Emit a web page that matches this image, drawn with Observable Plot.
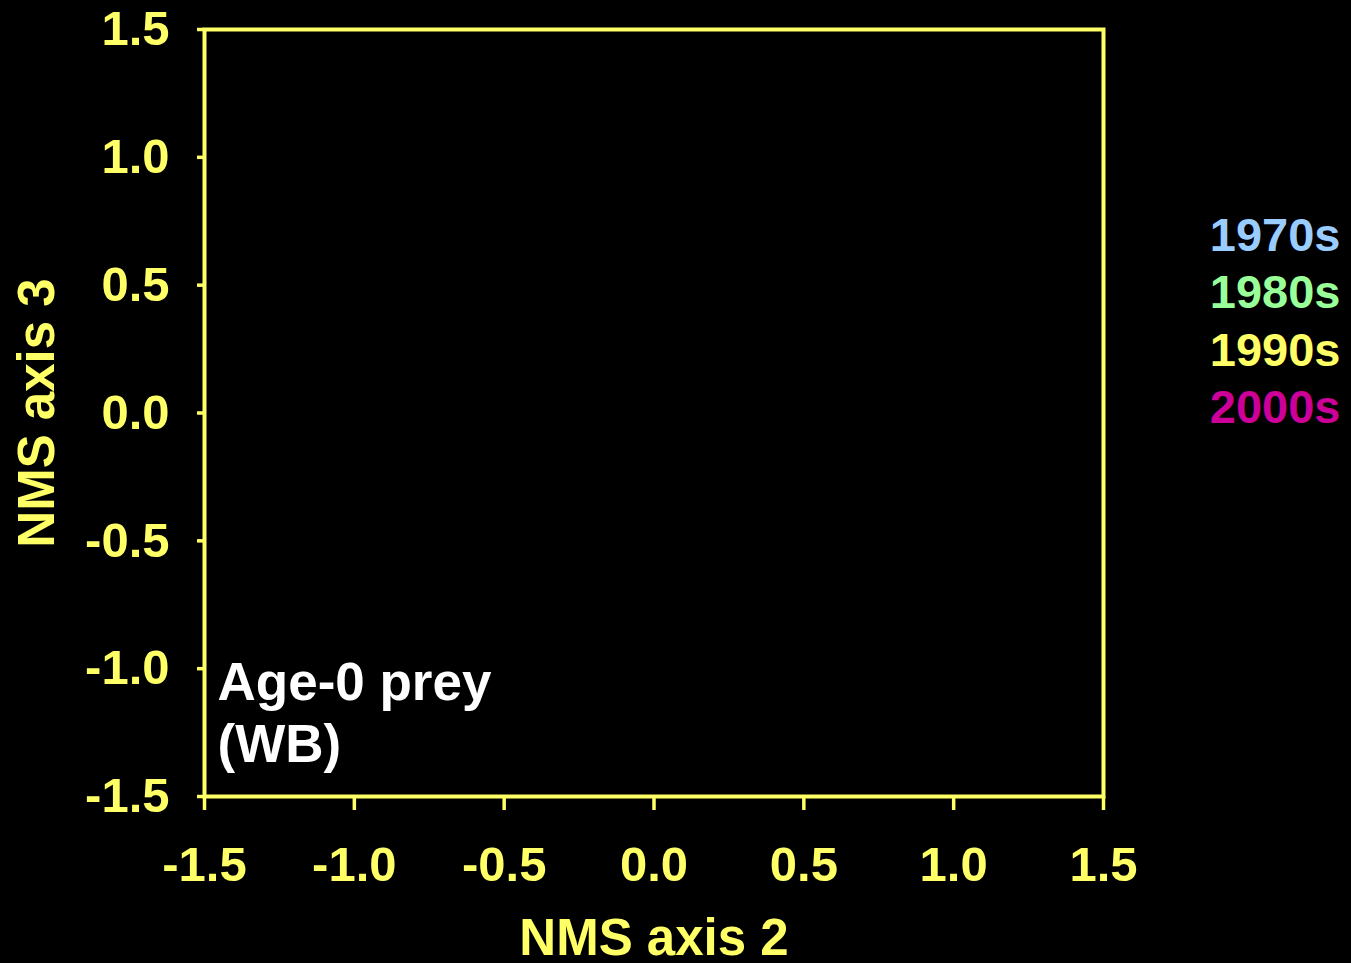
<!DOCTYPE html>
<html>
<head>
<meta charset="utf-8">
<script src="https://cdn.jsdelivr.net/npm/d3@7"></script>
<script src="https://cdn.jsdelivr.net/npm/@observablehq/plot@0.6"></script>
<style>
  html, body { margin: 0; padding: 0; background: #000; }
  #chart svg { display: block; }
</style>
</head>
<body>
<div id="chart"></div>
<script>
// Data
const decades = ["1970s", "1980s", "1990s", "2000s"];
const decadeColors = ["#99CCFF", "#99FF99", "#FFFF66", "#CC0099"];
const xTicks = [-1.5, -1.0, -0.5, 0.0, 0.5, 1.0, 1.5];
const yTicks = [-1.5, -1.0, -0.5, 0.0, 0.5, 1.0, 1.5];
const points = []; // no points visible in the reference
const xTitle = "NMS axis 2";
const yTitle = "NMS axis 3";
const panelNote = "Age-0 prey\n(WB)";

const yellow = "#FFFF66";
const font = "Liberation Sans, Arial, sans-serif";

const legendMarks = decades.map((d, i) =>
  Plot.text([d], {
    frameAnchor: "top-right",
    dx: 237,
    dy: 206 + i * 57.5,
    textAnchor: "end",
    lineAnchor: "middle",
    fill: decadeColors[i],
    fontSize: 47,
    fontWeight: "bold"
  })
);

const chart = Plot.plot({
  width: 1351,
  height: 963,
  marginLeft: 204,
  marginRight: 248,
  marginTop: 29,
  marginBottom: 167,
  style: { background: "#000", fontFamily: font, fontWeight: "bold", overflow: "visible" },
  x: { domain: [-1.5, 1.5] },
  y: { domain: [-1.5, 1.5] },
  color: { domain: decades, range: decadeColors },
  marks: [
    Plot.frame({ stroke: yellow, strokeWidth: 4 }),
    Plot.axisX({
      ticks: xTicks, tickSize: 14, tickPadding: 36,
      tickFormat: d => d.toFixed(1),
      stroke: yellow, strokeWidth: 3.5, fill: yellow,
      fontSize: 49, fontWeight: "bold", label: null
    }),
    Plot.axisY({
      ticks: yTicks, tickSize: 7, tickPadding: 28,
      tickFormat: d => d.toFixed(1),
      stroke: yellow, strokeWidth: 3.5, fill: yellow,
      fontSize: 49, fontWeight: "bold", label: null
    }),
    Plot.dot(points, { x: "x", y: "y", fill: "decade", r: 8 }),
    Plot.text([xTitle], {
      frameAnchor: "bottom", dy: 142, lineAnchor: "middle",
      fill: yellow, fontSize: 51, fontWeight: "bold"
    }),
    Plot.text([yTitle], {
      frameAnchor: "left", dx: -167, rotate: -90, textAnchor: "middle", lineAnchor: "middle",
      fill: yellow, fontSize: 51, fontWeight: "bold"
    }),
    Plot.text([panelNote], {
      frameAnchor: "bottom-left", dx: 13, dy: -35, textAnchor: "start", lineAnchor: "bottom",
      lineHeight: 1.17, fill: "#FFFFFF", fontSize: 53, fontWeight: "bold"
    }),
    ...legendMarks
  ]
});
document.getElementById("chart").appendChild(chart);
</script>
</body>
</html>
